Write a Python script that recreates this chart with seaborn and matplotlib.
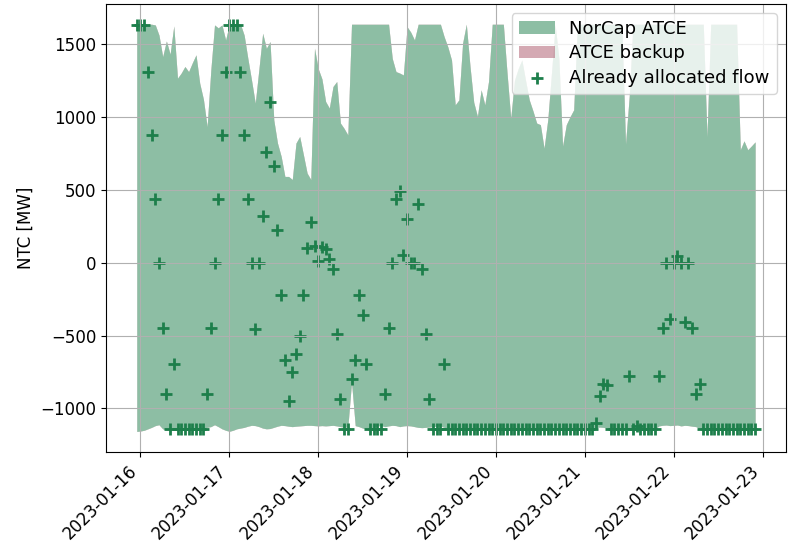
import matplotlib
matplotlib.use("Agg")
import pandas as pd
import matplotlib.pyplot as plt
import matplotlib.dates as mdates
import seaborn as sns

##### data (hourly, 2023-01-15 23:00 .. 2023-01-22 22:00) #####
start_time = "2023-01-15 23:00"

# upper edge of the NorCap ATCE domain [MW]
atce_upper = [
    1635, 1635, 1635, 1635, 1635, 1630, 1560, 1413, 1520, 1430, 1623, 1265,
    1300, 1345, 1310, 1370, 1425, 1230, 1120, 933, 1320, 1630, 1610, 1630,
    1527, 1635, 1635, 1635, 1635, 1560, 1400, 1250, 1094, 1330, 1573, 1470,
    1516, 979, 820, 728, 591, 591, 570, 820, 865, 740, 614, 570,
    1470, 1330, 1260, 1105, 1060, 1208, 1242, 957, 920, 876,
    1635, 1635, 1635, 1635, 1635, 1635, 1635, 1635, 1635, 1635, 1635,
    1400, 1310, 1300, 1287, 1618, 1580, 1527,
    1635, 1635, 1635, 1635, 1635, 1635, 1635,
    1550, 1480, 1390, 1082, 1116, 1505, 1635, 1345, 1100, 1003, 1185, 1082, 1242,
    1635, 1635, 1635, 1635,
    1300, 991, 1250, 1330, 1390, 1250, 1116, 1040, 957, 946, 785, 980,
    1300, 1630, 1400, 800, 946, 1000, 1048,
    1635, 1635, 1635, 1635, 1635, 1635, 1635, 1635, 1635, 1635, 1635, 1635, 1635,
    815, 1139,
    1635, 1635, 1635, 1635, 1635, 1635, 1635, 1635, 1635, 1635, 1635, 1635,
    1635, 1635, 1635, 1635, 1635, 1635,
    1635, 1635, 865,
    1635, 1635, 1635, 1635, 1635, 1635, 1635, 1635,
    774, 835, 774, 800, 828,
]

# lower edge of the NorCap ATCE domain [MW]
atce_lower = [
    -1158, -1155, -1150, -1140, -1130, -1118, -1112, -1140, -1148, -1146, -1145, -1150,
    -1148, -1146, -1150, -1148, -1145, -1140, -1135, -1130, -1125, -1112, -1125, -1140,
    -1150, -1157, -1150, -1140, -1135, -1130, -1122, -1116, -1118, -1125, -1135, -1140,
    -1138, -1130, -1122, -1116, -1118, -1122, -1125, -1122, -1120, -1118, -1116, -1116,
    -1118, -1120, -1118, -1120, -1118, -1116, -1120, -1125, -1128, -1128, -820, -1118,
    -1125, -1135, -1140, -1135, -1128, -1120, -1118, -1125, -1120, -1116, -1118, -1125,
    -1120, -1118, -1120, -1125, -1130, -1132, -1130, -1128, -1125, -1122, -1120, -1130,
    -1135, -1140, -1138, -1135, -1130, -1135, -1140, -1142, -1138, -1135, -1132, -1135,
    -1140, -1142, -1140, -1138, -1135, -1132, -1135, -1140, -1142, -1140, -1138, -1135,
    -1138, -1140, -1142, -1140, -1138, -1135, -1138, -1140, -1142, -1140, -1138, -1135,
    -1132, -1135, -1138, -1140, -1132, -1128, -1130, -1135, -1140, -1140, -1140, -1140,
    -1140, -1140, -1140, -1140, -1140, -1140, -1140, -1140, -1140, -1120, -1116, -1114,
    -1118, -1116, -1114, -1120, -1116, -1118, -1122, -1125, -1140, -1140, -1140, -1140,
    -1140, -1140, -1140, -1140, -1140, -1140, -1140, -1140, -1140, -1140, -1140, -1140,
]

# ATCE backup domain (coincides with the NorCap domain in this week)
backup_upper = atce_upper
backup_lower = atce_lower

# already allocated flow [MW]
allocated_flow = (
    [1630, 1630, 1630, 1310, 872, 436, 0, -447, -900, -1144, -694]
    + [-1144] * 8
    + [-900, -447, 0, 436, 872, 1310, 1630, 1630, 1630, 1310, 872, 436, 0, -452,
       0, 322, 762, 1100, 660, 226, -219, -669, -950, -751, -630, -505, -224,
       100, 276, 116, 8, 108, 94, 25, -41, -488, -938, -1144, -1144,
       -797, -669, -219, -361, -694]
    + [-1144] * 4
    + [-900, -447, 0, 438, 488, 50, 301, 0, 0, 402, -41, -488, -938]
    + [-1144] * 3
    + [-694]
    + [-1144] * 40
    + [-1098, -918, -831, -840]
    + [-1144] * 5
    + [-776, -1144, -1120]
    + [-1144] * 5
    + [-776, -450, 0, -384, 0, 48, 0, -405, 0, -450, -900, -835]
    + [-1144] * 15
)

NORCAP_COLOR = "#1d7f4b"
BACKUP_COLOR = "#ab5569"
FLOW_COLOR = "#1d7f4b"


def main():
    times = pd.date_range(start_time, periods=len(atce_upper), freq="h")
    df = pd.DataFrame({
        "time": times,
        "upper": atce_upper,
        "lower": atce_lower,
        "backup_upper": backup_upper,
        "backup_lower": backup_lower,
        "flow": allocated_flow,
    })

    fig, ax = plt.subplots(figsize=(7.9, 5.53), dpi=100)

    # capacity domains (backup drawn first, hidden under NorCap)
    h_backup = ax.fill_between(df["time"], df["backup_lower"], df["backup_upper"],
                               color=BACKUP_COLOR, alpha=0.5, lw=0, label="ATCE backup")
    ax.fill_between(df["time"], df["lower"], df["upper"], color="white", lw=0)
    h_norcap = ax.fill_between(df["time"], df["lower"], df["upper"],
                               color=NORCAP_COLOR, alpha=0.5, lw=0, label="NorCap ATCE")

    # allocated flow
    sns.scatterplot(data=df, x="time", y="flow", marker="+", s=80, linewidth=2,
                    color=FLOW_COLOR, ax=ax, legend=False)
    h_flow = ax.scatter([], [], marker="+", s=80, linewidth=2, color=FLOW_COLOR,
                        label="Already allocated flow")

    ax.grid(True)
    ax.set_xlabel("")
    ax.set_ylabel("NTC [MW]", fontsize=12)
    ax.xaxis.set_major_locator(mdates.DayLocator())
    ax.xaxis.set_major_formatter(mdates.DateFormatter("%Y-%m-%d"))
    ax.tick_params(labelsize=12)
    plt.setp(ax.get_xticklabels(), rotation=45, ha="right")

    ax.legend(handles=[h_norcap, h_backup, h_flow], loc="upper right",
              fontsize=13, labelspacing=0.35)

    fig.subplots_adjust(left=0.134, right=0.995, top=0.993, bottom=0.183)
    fig.savefig("out.png", dpi=100)


if __name__ == "__main__":
    main()
